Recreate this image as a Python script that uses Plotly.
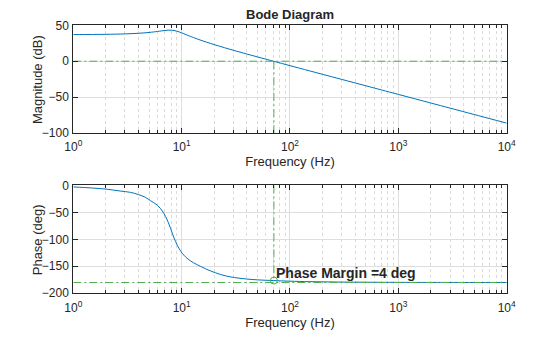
import math
import plotly.graph_objects as go

# Magnitude response samples
mag_freq_hz = [1, 1.5, 2, 3, 4, 5, 6, 6.5, 7, 7.5, 8, 8.5, 9, 9.5, 10, 11, 12, 14, 17, 20,
               25, 30, 40, 50, 70, 100, 150, 200, 300, 500, 700, 1000, 2000, 3000, 5000,
               7000, 10000]
magnitude_db = [37.11, 37.25, 37.45, 38.03, 38.89, 40.04, 41.45, 42.19, 42.83, 43.24,
                43.25, 42.77, 41.88, 40.73, 39.47, 36.95, 34.67, 30.86, 26.49, 23.10,
                18.71, 15.27, 10.01, 6.02, 0.07, -6.18, -13.26, -18.27, -25.32, -34.19,
                -40.04, -46.24, -58.28, -65.32, -74.20, -80.04, -86.24]

# Phase response samples
phase_freq_hz = [1, 1.5, 2, 2.71, 3.36, 4.01, 4.63, 5.15, 5.53, 6.0, 6.4, 6.85, 7.36,
                 7.9, 8.48, 9.12, 9.77, 10.47, 11.2, 12.0, 12.9, 14.0, 15.0, 16.6, 18.6,
                 23, 28.5, 40, 50, 70, 100, 150, 200, 300, 500, 700, 1000, 2000, 3000,
                 5000, 7000, 10000]
phase_deg = [-3.0, -5.0, -7.0, -10.6, -13.0, -17.3, -22.3, -28.4, -32.1, -37.2, -43.4,
             -51.9, -64.2, -79.7, -97.0, -111.0, -121.5, -129.3, -135.0, -139.6, -143.6,
             -147.3, -150.3, -154.6, -158.8, -165.3, -169.8, -173.6, -175.1, -176.4,
             -177.6, -178.4, -178.8, -179.2, -179.5, -179.7, -179.8, -179.9, -179.9,
             -180.0, -180.0, -180.0]

# Gain crossover and margin
crossover_hz = 71
crossover_phase = -176.4
phase_margin = 4

x_tickvals = [1, 10, 100, 1000, 10000]
x_ticktext = ["10<sup>0</sup>", "10<sup>1</sup>", "10<sup>2</sup>", "10<sup>3</sup>", "10<sup>4</sup>"]
mag_ticks = [50, 0, -50, -100]
phase_ticks = [0, -50, -100, -150, -200]

BLUE = "#0072BD"
GREEN = "#4fae4f"
TXT = "#262626"
FONT = "Liberation Sans"
DASHDOT = "8px,3px,2px,3px"

minor_vals = [m * 10 ** d for d in range(4) for m in range(2, 10)]

fig = go.Figure()

fig.add_trace(go.Scatter(x=mag_freq_hz, y=magnitude_db, mode="lines",
                         line=dict(color=BLUE, width=1, shape="spline"),
                         xaxis="x", yaxis="y", showlegend=False))
fig.add_trace(go.Scatter(x=[1, 10000], y=[0, 0], mode="lines",
                         line=dict(color=GREEN, width=1, dash=DASHDOT),
                         xaxis="x", yaxis="y", showlegend=False))
fig.add_trace(go.Scatter(x=[crossover_hz, crossover_hz], y=[0, -100], mode="lines",
                         line=dict(color=GREEN, width=1, dash=DASHDOT),
                         xaxis="x", yaxis="y", showlegend=False))

fig.add_trace(go.Scatter(x=phase_freq_hz, y=phase_deg, mode="lines",
                         line=dict(color=BLUE, width=1, shape="spline"),
                         xaxis="x2", yaxis="y2", showlegend=False))
fig.add_trace(go.Scatter(x=[1, 10000], y=[-180, -180], mode="lines",
                         line=dict(color=GREEN, width=1, dash=DASHDOT),
                         xaxis="x2", yaxis="y2", showlegend=False))
fig.add_trace(go.Scatter(x=[crossover_hz, crossover_hz], y=[0, crossover_phase], mode="lines",
                         line=dict(color=GREEN, width=1, dash=DASHDOT),
                         xaxis="x2", yaxis="y2", showlegend=False))
fig.add_trace(go.Scatter(x=[crossover_hz], y=[crossover_phase], mode="markers",
                         marker=dict(symbol="circle-open", color=GREEN, size=7, line=dict(width=1)),
                         xaxis="x2", yaxis="y2", showlegend=False))

x_dom = [0.1309, 0.9048]

def xaxis_style(anchor):
    return dict(
        type="log", range=[0, 4], domain=x_dom, anchor=anchor, automargin=False,
        tickmode="array", tickvals=x_tickvals, ticktext=x_ticktext,
        ticks="inside", ticklen=5, tickcolor=TXT, tickwidth=1, ticklabelstandoff=3,
        showline=True, linecolor=TXT, linewidth=1, mirror="ticks",
        showgrid=True, gridcolor="#dedede", gridwidth=1,
        zeroline=False,
        tickfont=dict(family=FONT, size=12, color=TXT),
        title=dict(text="Frequency (Hz)", font=dict(family=FONT, size=13, color=TXT), standoff=3),
        minor=dict(tickmode="array", tickvals=minor_vals, ticks="inside", ticklen=3,
                   tickcolor=TXT, showgrid=True, gridcolor="#dadada", griddash="dot", gridwidth=1),
    )

def yaxis_style(anchor, rng, ticks, dom):
    return dict(
        range=rng, domain=dom, anchor=anchor, automargin=False,
        tickmode="array", tickvals=ticks,
        ticks="inside", ticklen=5, tickcolor=TXT, tickwidth=1, ticklabelstandoff=1,
        showline=True, linecolor=TXT, linewidth=1, mirror="ticks",
        showgrid=True, gridcolor="#dedede", gridwidth=1,
        zeroline=False,
        tickfont=dict(family=FONT, size=12, color=TXT),
    )

fig.update_layout(
    width=560, height=337,
    margin=dict(l=0, r=0, t=0, b=0),
    paper_bgcolor="white", plot_bgcolor="white",
    xaxis=xaxis_style("y"),
    yaxis=yaxis_style("x", [-100, 50], mag_ticks, [0.6053, 0.9249]),
    xaxis2=xaxis_style("y2"),
    yaxis2=yaxis_style("x2", [-200, 0], phase_ticks, [0.1297, 0.4501]),
    annotations=[
        dict(text="<b>Bode Diagram</b>", xref="paper", yref="paper", x=0.5178, y=0.9555,
             xanchor="center", yanchor="middle", showarrow=False,
             font=dict(family=FONT, size=13, color=TXT)),
        dict(text="Magnitude (dB)", xref="paper", yref="paper", x=0.066, y=0.7651,
             xanchor="center", yanchor="middle", textangle=-90, showarrow=False,
             font=dict(family=FONT, size=13, color=TXT)),
        dict(text="Phase (deg)", xref="paper", yref="paper", x=0.066, y=0.2899,
             xanchor="center", yanchor="middle", textangle=-90, showarrow=False,
             font=dict(family=FONT, size=13, color=TXT)),
        dict(text=f"<b>Phase Margin ={phase_margin} deg</b>", xref="x2", yref="y2",
             x=math.log10(crossover_hz), y=-162, xanchor="left", yanchor="middle", showarrow=False,
             font=dict(family=FONT, size=14, color=TXT)),
    ],
)

fig.write_html("out.html")
